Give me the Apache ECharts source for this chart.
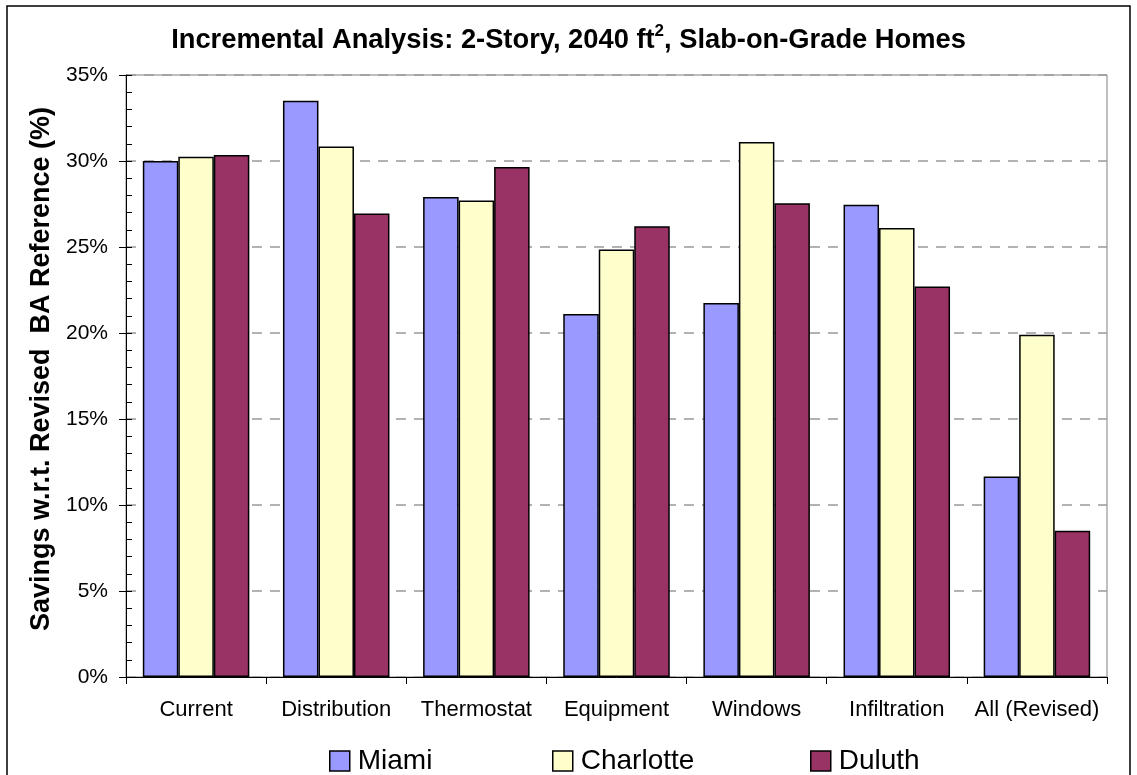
<!DOCTYPE html>
<html>
<head>
<meta charset="utf-8">
<title>Incremental Analysis</title>
<script src="https://cdn.jsdelivr.net/npm/echarts@6/dist/echarts.min.js"></script>
<style>
  html, body { margin: 0; padding: 0; background: #fff; }
  #chart { width: 1137px; height: 775px; }
</style>
</head>
<body>
<div id="chart"></div>
<script>
// categories along the x axis
const categories = ['Current', 'Distribution', 'Thermostat', 'Equipment', 'Windows', 'Infiltration', 'All (Revised)'];

// savings in %
const miami = [30.0, 33.5, 27.9, 21.1, 21.75, 27.45, 11.65];
const charlotte = [30.25, 30.85, 27.7, 24.85, 31.1, 26.1, 19.9];
const duluth = [30.35, 26.95, 29.65, 26.2, 27.55, 22.7, 8.5];

const yTicks = [0, 5, 10, 15, 20, 25, 30, 35];

const FONT = '"Liberation Sans", Arial, sans-serif';

const chart = echarts.init(document.getElementById('chart'));

function barSeries(name, data, color) {
	return {
		name: name,
		type: 'bar',
		data: data,
		barGap: '0%',
		barCategoryGap: '24%',
		itemStyle: {
			color: color,
			borderColor: '#000',
			borderWidth: 1.5
		}
	};
}

function legendFor(name, left) {
	return {
		data: [name],
		left: left,
		top: 747,
		padding: 0,
		itemWidth: 20,
		itemHeight: 20,
		itemGap: 0,
		icon: 'rect',
		itemStyle: { borderColor: '#000', borderWidth: 1.5 },
		textStyle: { fontFamily: FONT, fontSize: 28, color: '#000', padding: [0, 0, 0, 3] }
	};
}

const option = {
	animation: false,
	backgroundColor: '#fff',
	textStyle: { fontFamily: FONT },
	title: {
		text: 'Incremental Analysis: 2-Story, 2040 ft{sup|2}, Slab-on-Grade Homes',
		left: 'center',
		top: 23,
		padding: 0,
		textStyle: {
			fontFamily: FONT,
			fontSize: 27.3,
			fontWeight: 'bold',
			color: '#000',
			lineHeight: 34,
			rich: {
				sup: { fontFamily: FONT, fontSize: 17, fontWeight: 'bold', color: '#000', verticalAlign: 'top', lineHeight: 34, padding: [0, 0, 14, 0] }
			}
		}
	},
	legend: [
		legendFor('Miami', 329),
		legendFor('Charlotte', 552),
		legendFor('Duluth', 810)
	],
	grid: {
		left: 126,
		right: 30,
		top: 75,
		bottom: 98,
		show: true,
		borderColor: '#808080',
		borderWidth: 1
	},
	xAxis: {
		type: 'category',
		data: categories,
		axisLine: { lineStyle: { color: '#000', width: 1 } },
		axisTick: { show: true, length: 7, lineStyle: { color: '#000' } },
		axisLabel: { fontFamily: FONT, fontSize: 22, color: '#000', margin: 22, interval: 0 }
	},
	yAxis: [
		{
			type: 'value',
			min: 0,
			max: 35,
			interval: 5,
			name: 'Savings w.r.t. Revised  BA Reference (%)',
			nameLocation: 'middle',
			nameRotate: 90,
			nameGap: 70,
			nameTextStyle: { fontFamily: FONT, fontSize: 27, fontWeight: 'bold', color: '#000', padding: [0, 0, 0, 14] },
			axisLine: { show: true, lineStyle: { color: '#000', width: 1 } },
			axisTick: { show: true, inside: true, length: 6, lineStyle: { color: '#000' } },
			minorTick: { show: true, splitNumber: 5, length: 6, lineStyle: { color: '#000' } },
			axisLabel: {
				fontFamily: FONT, fontSize: 21, color: '#000', margin: 18,
				formatter: function (v) { return yTicks.indexOf(v) >= 0 ? v + '%' : ''; }
			},
			splitLine: {
				show: true,
				lineStyle: { color: '#999', type: [10, 8], width: 1.5 }
			}
		},
		{
			type: 'value',
			min: 0,
			max: 35,
			interval: 5,
			position: 'left',
			axisLine: { show: false },
			axisTick: { show: true, inside: false, length: 7, lineStyle: { color: '#000' } },
			axisLabel: { show: false },
			splitLine: { show: false }
		}
	],
	series: [
		barSeries('Miami', miami, '#9999FF'),
		barSeries('Charlotte', charlotte, '#FFFFCC'),
		barSeries('Duluth', duluth, '#993366')
	],
	graphic: [{
		type: 'rect',
		shape: { x: 7, y: 6, width: 1123, height: 790 },
		style: { fill: 'none', stroke: '#000', lineWidth: 1.5 },
		silent: true
	}]
};

chart.setOption(option);
</script>
</body>
</html>
